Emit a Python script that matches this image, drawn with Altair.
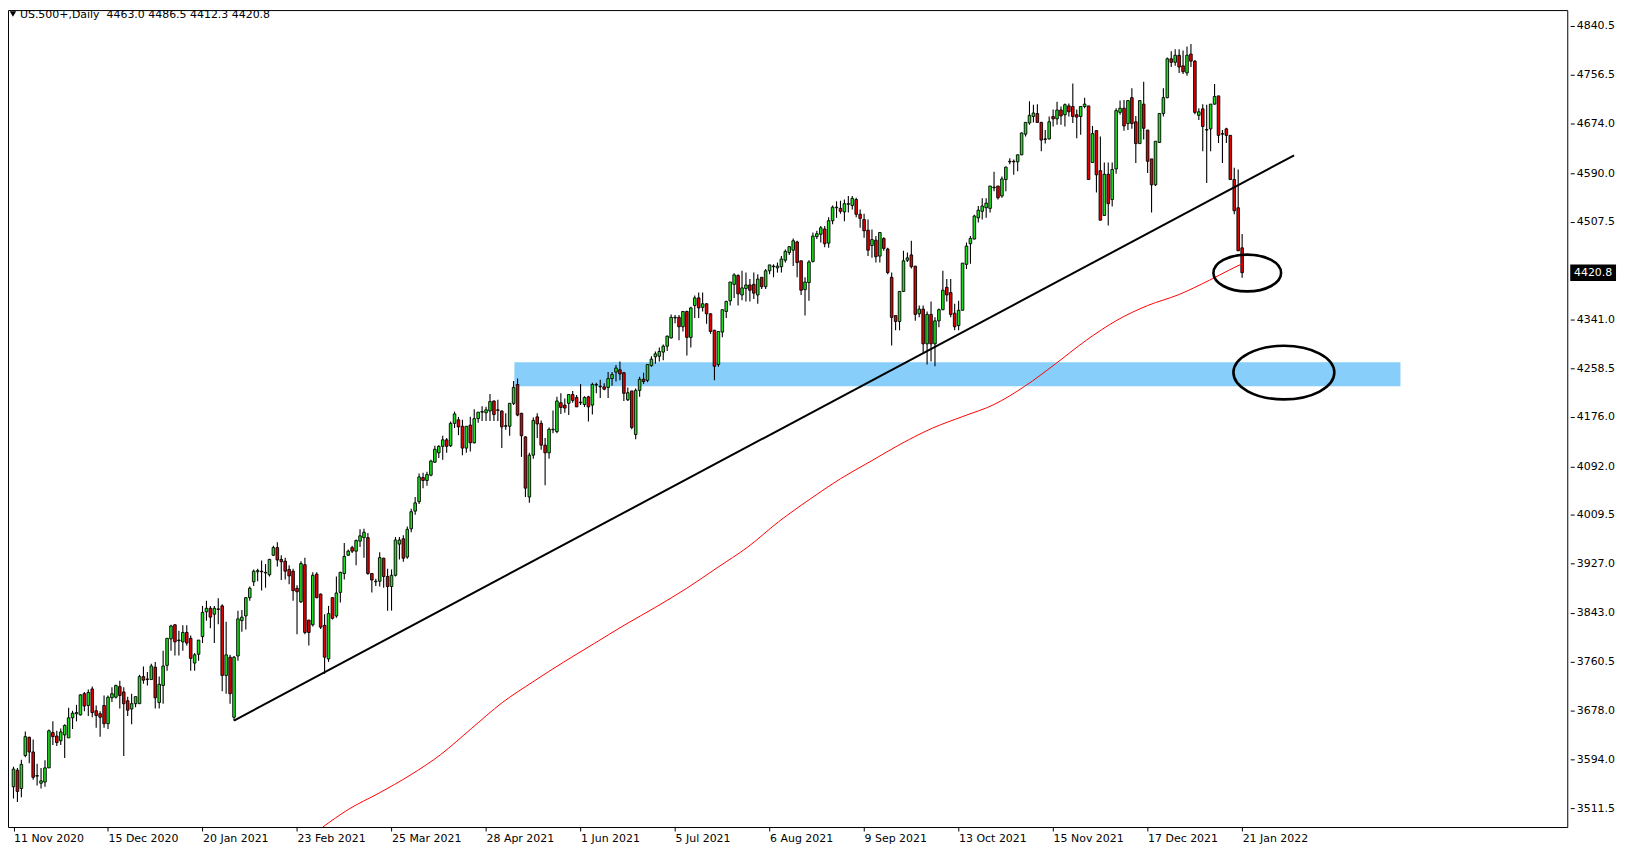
import altair as alt
import pandas as pd

# ---------------- data ----------------
opens = [
    3548, 3576, 3545, 3601, 3632, 3607, 3566, 3554, 3556, 3580,
    3640, 3634, 3626, 3636, 3631, 3665, 3672, 3670, 3706, 3686,
    3714, 3677, 3672, 3686, 3655, 3699, 3700, 3718, 3709, 3694,
    3680, 3689, 3689, 3735, 3730, 3730, 3751, 3691, 3720, 3754,
    3799, 3823, 3796, 3794, 3810, 3800, 3758, 3773, 3803, 3845,
    3851, 3841, 3850, 3855, 3737, 3768, 3666, 3770, 3830, 3838,
    3869, 3896, 3913, 3914, 3911, 3908, 3941, 3954, 3934, 3931,
    3917, 3914, 3885, 3862, 3925, 3831, 3823, 3909, 3875, 3822,
    3765, 3869, 3838, 3878, 3910, 3941, 3954, 3948, 3965, 3971,
    3971, 3910, 3896, 3897, 3936, 3905, 3888, 3907, 3960, 3969,
    3938, 3986, 4016, 4032, 4073, 4068, 4077, 4099, 4115, 4126,
    4137, 4127, 4165, 4171, 4160, 4123, 4162, 4132, 4173, 4184,
    4183, 4186, 4203, 4187, 4186, 4160, 4160, 4199, 4231, 4182,
    4142, 4040, 4111, 4176, 4165, 4128, 4115, 4154, 4151, 4200,
    4196, 4199, 4214, 4209, 4200, 4197, 4210, 4196, 4230, 4228,
    4227, 4226, 4241, 4252, 4256, 4251, 4205, 4220, 4146, 4221,
    4240, 4238, 4263, 4278, 4279, 4286, 4296, 4310, 4344, 4345,
    4329, 4355, 4311, 4365, 4378, 4362, 4368, 4351, 4323, 4265,
    4320, 4355, 4373, 4401, 4416, 4383, 4394, 4400, 4401, 4383,
    4413, 4397, 4424, 4431, 4429, 4431, 4442, 4455, 4459, 4473,
    4441, 4392, 4404, 4440, 4482, 4486, 4495, 4471, 4509, 4531,
    4530, 4524, 4537, 4535, 4545, 4520, 4511, 4493, 4467, 4476,
    4449, 4479, 4461, 4413, 4348, 4338, 4389, 4442, 4451, 4432,
    4351, 4359, 4300, 4350, 4300, 4339, 4358, 4396, 4387, 4352,
    4331, 4357, 4435, 4470, 4478, 4514, 4525, 4531, 4530, 4565,
    4568, 4551, 4579, 4609, 4610, 4609, 4621, 4656, 4675, 4686,
    4691, 4676, 4647, 4648, 4686, 4682, 4697, 4689, 4704, 4703,
    4689, 4686, 4703, 4704, 4608, 4662, 4594, 4518, 4588, 4545,
    4597, 4693, 4700, 4674, 4718, 4677, 4640, 4707, 4663, 4614,
    4570, 4642, 4691, 4718, 4784, 4778, 4790, 4772, 4760, 4792,
    4780, 4688, 4699, 4663, 4665, 4707, 4721, 4656, 4665, 4654,
    4579, 4531, 4463.0,
]
highs = [
    3582, 3580, 3594, 3642, 3633, 3628, 3587, 3580, 3593, 3645,
    3659, 3643, 3647, 3654, 3682, 3677, 3687, 3705, 3709, 3713,
    3718, 3686, 3676, 3703, 3703, 3717, 3721, 3728, 3717, 3701,
    3706, 3701, 3738, 3752, 3743, 3757, 3760, 3735, 3779, 3800,
    3823, 3824, 3813, 3822, 3822, 3805, 3775, 3797, 3855, 3864,
    3855, 3855, 3868, 3858, 3828, 3772, 3770, 3847, 3848, 3870,
    3888, 3917, 3918, 3932, 3926, 3935, 3957, 3963, 3941, 3937,
    3924, 3918, 3890, 3931, 3937, 3831, 3912, 3912, 3876, 3841,
    3855, 3870, 3905, 3913, 3962, 3951, 3957, 3968, 3985, 3986,
    3979, 3911, 3901, 3946, 3937, 3918, 3917, 3972, 3972, 3975,
    3990, 4020, 4040, 4080, 4081, 4083, 4103, 4127, 4128, 4144,
    4140, 4168, 4185, 4176, 4171, 4160, 4176, 4189, 4184, 4194,
    4193, 4215, 4204, 4205, 4187, 4182, 4199, 4237, 4241, 4183,
    4143, 4115, 4175, 4182, 4170, 4140, 4158, 4187, 4210, 4216,
    4207, 4214, 4220, 4213, 4232, 4211, 4212, 4234, 4234, 4239,
    4233, 4252, 4252, 4264, 4270, 4252, 4226, 4220, 4224, 4244,
    4251, 4265, 4279, 4287, 4294, 4299, 4314, 4350, 4349, 4349,
    4355, 4356, 4363, 4382, 4387, 4387, 4369, 4352, 4324, 4321,
    4358, 4373, 4405, 4420, 4418, 4424, 4421, 4410, 4421, 4418,
    4413, 4427, 4434, 4435, 4438, 4449, 4460, 4466, 4479, 4475,
    4441, 4413, 4442, 4489, 4492, 4500, 4500, 4515, 4535, 4542,
    4543, 4545, 4551, 4551, 4548, 4528, 4521, 4511, 4494, 4483,
    4490, 4481, 4463, 4421, 4348, 4389, 4458, 4455, 4475, 4432,
    4365, 4365, 4355, 4372, 4345, 4360, 4424, 4410, 4410, 4368,
    4373, 4437, 4472, 4483, 4519, 4534, 4547, 4547, 4568, 4592,
    4568, 4584, 4601, 4615, 4613, 4621, 4659, 4676, 4712, 4706,
    4707, 4677, 4663, 4686, 4698, 4711, 4703, 4708, 4708, 4742,
    4698, 4703, 4718, 4704, 4670, 4662, 4652, 4608, 4608, 4608,
    4700, 4713, 4714, 4714, 4734, 4687, 4714, 4745, 4663, 4614,
    4644, 4692, 4734, 4786, 4797, 4800, 4800, 4798, 4805, 4809,
    4782, 4700, 4707, 4706, 4707, 4741, 4721, 4663, 4667, 4654,
    4599, 4596, 4486.5,
]
lows = [
    3528, 3522, 3530, 3598, 3588, 3560, 3550, 3545, 3548, 3580,
    3619, 3617, 3619, 3597, 3631, 3646, 3659, 3669, 3676, 3668,
    3666, 3648, 3633, 3648, 3646, 3692, 3698, 3681, 3600, 3668,
    3654, 3683, 3689, 3723, 3720, 3730, 3681, 3681, 3689, 3745,
    3779, 3771, 3771, 3779, 3788, 3745, 3745, 3762, 3792, 3830,
    3817, 3792, 3824, 3710, 3706, 3689, 3660, 3762, 3811, 3815,
    3864, 3889, 3897, 3881, 3886, 3905, 3940, 3922, 3899, 3900,
    3892, 3864, 3807, 3860, 3807, 3788, 3820, 3868, 3816, 3740,
    3760, 3832, 3835, 3861, 3900, 3940, 3945, 3924, 3955, 3937,
    3908, 3878, 3889, 3888, 3886, 3847, 3847, 3905, 3934, 3930,
    3935, 3980, 4010, 4028, 4055, 4059, 4075, 4098, 4106, 4103,
    4115, 4125, 4157, 4145, 4111, 4115, 4117, 4131, 4166, 4169,
    4169, 4169, 4169, 4169, 4123, 4154, 4144, 4196, 4177, 4108,
    4040, 4030, 4105, 4140, 4120, 4060, 4105, 4148, 4148, 4181,
    4183, 4179, 4200, 4193, 4196, 4193, 4168, 4180, 4216, 4208,
    4221, 4208, 4229, 4236, 4238, 4203, 4203, 4155, 4138, 4210,
    4232, 4235, 4261, 4266, 4270, 4272, 4288, 4309, 4335, 4306,
    4321, 4280, 4294, 4344, 4344, 4355, 4334, 4317, 4238, 4261,
    4311, 4344, 4365, 4378, 4365, 4374, 4372, 4372, 4376, 4368,
    4393, 4393, 4418, 4413, 4421, 4421, 4438, 4451, 4432, 4413,
    4383, 4348, 4373, 4438, 4478, 4472, 4464, 4463, 4503, 4514,
    4521, 4508, 4523, 4528, 4515, 4497, 4480, 4449, 4446, 4438,
    4438, 4458, 4418, 4297, 4323, 4323, 4388, 4439, 4428, 4339,
    4345, 4285, 4265, 4270, 4262, 4328, 4357, 4372, 4345, 4323,
    4323, 4357, 4427, 4436, 4477, 4506, 4511, 4514, 4523, 4559,
    4545, 4548, 4559, 4605, 4587, 4593, 4620, 4652, 4672, 4676,
    4675, 4627, 4640, 4647, 4669, 4672, 4672, 4669, 4686, 4675,
    4649, 4655, 4700, 4579, 4607, 4557, 4510, 4517, 4501, 4533,
    4589, 4689, 4662, 4663, 4665, 4607, 4640, 4647, 4590, 4523,
    4568, 4641, 4686, 4717, 4770, 4772, 4760, 4758, 4755, 4770,
    4690, 4680, 4627, 4573, 4627, 4706, 4641, 4607, 4641, 4579,
    4520, 4458, 4412.3,
]
closes = [
    3578, 3540, 3586, 3633, 3607, 3564, 3567, 3558, 3580, 3643,
    3633, 3623, 3641, 3652, 3665, 3673, 3674, 3704, 3685, 3708,
    3674, 3669, 3666, 3655, 3700, 3706, 3720, 3703, 3689, 3678,
    3689, 3701, 3735, 3729, 3731, 3753, 3699, 3722, 3753, 3800,
    3821, 3794, 3797, 3810, 3792, 3766, 3772, 3797, 3844, 3851,
    3836, 3851, 3849, 3737, 3772, 3706, 3768, 3833, 3836, 3869,
    3885, 3914, 3915, 3913, 3912, 3934, 3954, 3933, 3930, 3914,
    3906, 3881, 3879, 3927, 3810, 3810, 3907, 3869, 3819, 3768,
    3842, 3834, 3877, 3912, 3939, 3948, 3948, 3966, 3974, 3980,
    3910, 3899, 3897, 3937, 3905, 3888, 3907, 3967, 3967, 3936,
    3985, 4015, 4030, 4074, 4068, 4078, 4101, 4121, 4126, 4137,
    4126, 4165, 4181, 4159, 4123, 4160, 4132, 4173, 4184, 4185,
    4188, 4202, 4180, 4188, 4159, 4161, 4199, 4226, 4179, 4144,
    4055, 4111, 4170, 4164, 4128, 4115, 4155, 4155, 4203, 4192,
    4191, 4214, 4204, 4193, 4201, 4209, 4193, 4231, 4231, 4227,
    4223, 4241, 4248, 4259, 4249, 4216, 4217, 4158, 4221, 4240,
    4236, 4265, 4274, 4283, 4287, 4296, 4313, 4345, 4345, 4329,
    4355, 4311, 4361, 4378, 4361, 4368, 4351, 4321, 4262, 4321,
    4358, 4372, 4405, 4417, 4385, 4395, 4400, 4391, 4386, 4410,
    4397, 4424, 4434, 4432, 4432, 4444, 4457, 4465, 4475, 4438,
    4391, 4405, 4439, 4483, 4487, 4497, 4470, 4509, 4532, 4532,
    4525, 4538, 4538, 4547, 4520, 4513, 4492, 4459, 4477, 4448,
    4489, 4462, 4421, 4345, 4338, 4389, 4441, 4446, 4431, 4350,
    4359, 4300, 4350, 4300, 4339, 4358, 4391, 4383, 4350, 4329,
    4357, 4437, 4466, 4479, 4517, 4527, 4534, 4539, 4568, 4566,
    4548, 4580, 4600, 4610, 4609, 4621, 4658, 4676, 4688, 4692,
    4676, 4646, 4648, 4677, 4682, 4697, 4687, 4706, 4694, 4686,
    4685, 4703, 4707, 4579, 4657, 4587, 4510, 4588, 4538, 4596,
    4696, 4700, 4670, 4713, 4674, 4640, 4713, 4666, 4610, 4570,
    4644, 4691, 4718, 4784, 4778, 4790, 4770, 4762, 4790, 4780,
    4693, 4694, 4669, 4664, 4707, 4720, 4654, 4657, 4654, 4579,
    4526, 4458, 4420.8,
]

# date labels every 24 bars
date_labels = [
    "11 Nov 2020", "15 Dec 2020", "20 Jan 2021", "23 Feb 2021", "25 Mar 2021",
    "28 Apr 2021", "1 Jun 2021", "5 Jul 2021", "6 Aug 2021", "9 Sep 2021",
    "13 Oct 2021", "15 Nov 2021", "17 Dec 2021", "21 Jan 2022",
]
label_step = 24

price_ticks = [4840.5, 4756.5, 4674.0, 4590.0, 4507.5, 4341.0, 4258.5, 4176.0,
               4092.0, 4009.5, 3927.0, 3843.0, 3760.5, 3678.0, 3594.0, 3511.5]

# moving average
ma_bar = [78.5, 85.0, 92.9, 100.7, 108.5, 116.3, 124.1, 131.9, 139.7, 147.5,
          155.3, 163.1, 170.9, 178.7, 186.5, 194.3, 202.2, 210.0, 217.8, 225.6,
          233.4, 241.2, 249.0, 256.8, 264.6, 272.4, 280.2, 288.0, 295.8, 303.7,
          308.8, 312.0]
ma_val = [3479.4, 3509.3, 3537.5, 3567.5, 3602.7, 3646.9, 3690.8, 3726.1, 3759.6, 3791.3,
          3823.1, 3853.0, 3884.7, 3919.9, 3955.2, 3998.0, 4036.0, 4071.0, 4101.0, 4131.0,
          4157.0, 4177.0, 4197.0, 4228.0, 4266.0, 4306.0, 4340.0, 4365.0, 4383.3, 4408.0,
          4425.6, 4436.0]

# trend line end points (bar, price)
trend_bar = [56.0, 325.2]
trend_val = [3660.4, 4620.0]

# support zone (bar range, price range)
zone_bar = [127.2, 352.2]
zone_val = [4228.0, 4268.6]

# circles (centre bar, centre price)
circle_small = (313.3, 4420.3)
circle_big = (322.6, 4251.2)

last_price = 4420.8
header = "US.500+,Daily\u00a0\u00a04463.0 4486.5 4412.3 4420.8"

# ---------------- chart ----------------
W, H = 1567, 821
FONT = "DejaVu Sans"
GREEN = "#1EE01E"
RED = "#E00000"

xscale = alt.Scale(domain=[-0.13, 393.3], nice=False, zero=False)
yscale = alt.Scale(domain=[3479.6, 4866.7], nice=False, zero=False)

label_expr = "[" + ",".join("'%s'" % d for d in date_labels) + "][round(datum.value / %d)]" % label_step
xaxis = alt.Axis(values=[k * label_step for k in range(len(date_labels))], labelExpr=label_expr,
                 orient="bottom", grid=False, domain=False, tickSize=4, labelAlign="left",
                 labelPadding=2, labelFlush=False, labelOverlap=False, labelBound=False,
                 title=None, labelFont=FONT, labelFontSize=11, labelColor="black",
                 tickColor="black")
yaxis = alt.Axis(values=price_ticks, format=".1f", orient="right", grid=False, domain=False,
                 offset=3, tickSize=4, labelPadding=2, labelFlush=False, labelOverlap=False,
                 title=None, labelFont=FONT, labelFontSize=11, labelColor="black",
                 tickColor="black")


def X(field):
    return alt.X(field, scale=xscale, axis=xaxis)


def Y(field):
    return alt.Y(field, scale=yscale, axis=yaxis)


df = pd.DataFrame({"i": list(range(len(closes))), "o": opens, "h": highs, "l": lows, "c": closes})
df["dir"] = ["up" if c >= o else "down" for o, c in zip(opens, closes)]

zone_df = pd.DataFrame({"x": [zone_bar[0]], "x2": [zone_bar[1]], "y": [zone_val[0]], "y2": [zone_val[1]]})
zone = alt.Chart(zone_df).mark_rect(color="#87CEFA").encode(
    x=X("x:Q"), x2="x2:Q", y=Y("y:Q"), y2="y2:Q")

wicks = alt.Chart(df).mark_rule(color="black", strokeWidth=1.1).encode(
    x=X("i:Q"), y=Y("l:Q"), y2="h:Q")

bodies = alt.Chart(df).mark_bar(size=2.6, stroke="black", strokeWidth=0.9).encode(
    x=X("i:Q"), y=Y("o:Q"), y2="c:Q",
    fill=alt.Fill("dir:N", scale=alt.Scale(domain=["up", "down"], range=[GREEN, RED]), legend=None))

ma_df = pd.DataFrame({"x": ma_bar, "y": ma_val})
ma = alt.Chart(ma_df).mark_line(color="#FF0000", strokeWidth=1, clip=True, interpolate="monotone").encode(
    x=X("x:Q"), y=Y("y:Q"))

trend_df = pd.DataFrame({"x": trend_bar, "y": trend_val})
trend = alt.Chart(trend_df).mark_line(color="black", strokeWidth=2).encode(
    x=X("x:Q"), y=Y("y:Q"))


def ellipse(center, rx, ry):
    cdf = pd.DataFrame({"x": [center[0]], "y": [center[1]]})
    r = ry / rx
    path = "M-1,0A1,%.3f,0,1,1,1,0A1,%.3f,0,1,1,-1,0Z" % (r, r)
    return alt.Chart(cdf).mark_point(shape=path, size=(2 * rx) ** 2, filled=False,
                                     color="black", strokeWidth=2.6, opacity=1).encode(
        x=X("x:Q"), y=Y("y:Q"))


e1 = ellipse(circle_small, 34, 18.5)
e2 = ellipse(circle_big, 50.7, 26.9)

lp_df = pd.DataFrame({"y": [last_price], "t": ["%.1f" % last_price]})
box = alt.Chart(lp_df).mark_point(shape="M-1,-0.36L1,-0.36L1,0.36L-1,0.36Z", size=46 ** 2,
                                  filled=True, color="black", opacity=1).encode(
    x=alt.value(W + 26), y=Y("y:Q"))
box_text = alt.Chart(lp_df).mark_text(color="white", font=FONT, fontSize=11, align="center",
                                      baseline="middle").encode(
    x=alt.value(W + 26), y=Y("y:Q"), text="t:N")

hdr_df = pd.DataFrame({"t": [header]})
hdr = alt.Chart(hdr_df).mark_text(align="left", baseline="alphabetic", font=FONT, fontSize=11,
                                  color="black").encode(x=alt.value(12), y=alt.value(8), text="t:N")
tri = alt.Chart(hdr_df).mark_point(shape="triangle-down", filled=True, color="black", size=42,
                                   opacity=1).encode(x=alt.value(5), y=alt.value(4))

chart = alt.layer(zone, wicks, bodies, ma, trend, e1, e2, box, box_text, hdr, tri).properties(
    width=W, height=H,
    background="white",
    autosize=alt.AutoSizeParams(type="none"),
    padding={"left": 0, "top": 0, "right": 54, "bottom": 21},
).configure_view(stroke="black", strokeWidth=1)

chart.save("out.html", embed_options={"renderer": "svg", "actions": False})
